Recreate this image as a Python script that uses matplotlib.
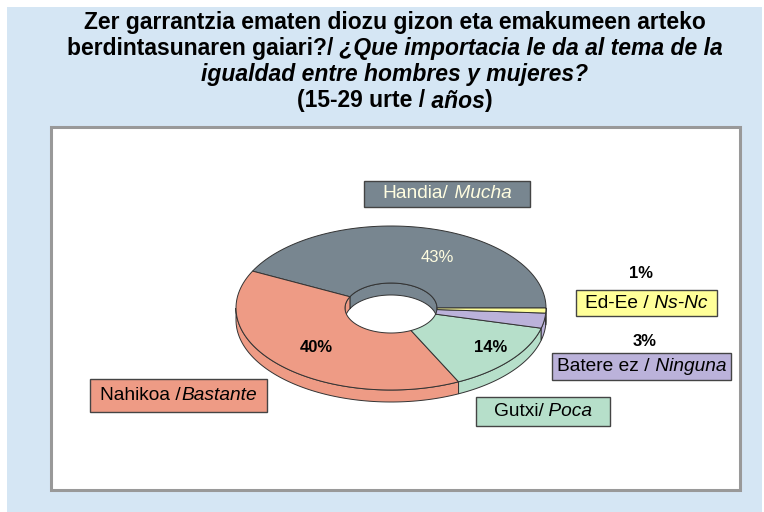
import numpy as np
import matplotlib.pyplot as plt
from matplotlib.patches import Rectangle, Polygon

# data
categories = ['Handia/ Mucha', 'Nahikoa /Bastante', 'Gutxi/ Poca', 'Batere ez / Ninguna', 'Ed-Ee / Ns-Nc']
values = [43, 40, 14, 3, 1]
pct_labels = ['43%', '40%', '14%', '3%', '1%']
colors = ['#788690', '#ee9b85', '#b6dfca', '#bbb2da', '#ffff99']

LFONT = ['Liberation Sans', 'DejaVu Sans']

fig = plt.figure(figsize=(7.64, 5.12), dpi=100)
ax = fig.add_axes([0, 0, 1, 1])
ax.set_xlim(0, 764)
ax.set_ylim(512, 0)
ax.axis('off')

# background + panel
ax.add_patch(Rectangle((7, 7), 755, 505, facecolor='#d5e6f4', edgecolor='none', zorder=0))
ax.add_patch(Rectangle((51, 127), 689, 363, facecolor='white', edgecolor='#999999', lw=2.2, zorder=1))

renderer = fig.canvas.get_renderer()


def rich(parts, xc, y, size, color='black', family=LFONT, z=10):
    objs = []
    for s, weight, style in parts:
        t = ax.text(0, y, s, fontsize=size, fontweight=weight, fontstyle=style,
                    color=color, va='center', ha='left', family=family, zorder=z)
        objs.append(t)
    widths = [t.get_window_extent(renderer).width for t in objs]
    x = xc - sum(widths) / 2
    for t, w in zip(objs, widths):
        t.set_x(x)
        x += w


# title
cx_t = 395
ts = 16.5
rich([('Zer garrantzia ematen diozu gizon eta emakumeen arteko', 'bold', 'normal')], cx_t, 23, ts)
rich([('berdintasunaren gaiari?/', 'bold', 'normal'),
      (' ¿Que importacia le da al tema de la', 'bold', 'italic')], cx_t, 48, ts)
rich([('igualdad entre hombres y mujeres?', 'bold', 'italic')], cx_t, 74, ts)
rich([('(15-29 urte /', 'bold', 'normal'), (' años', 'bold', 'italic'), (')', 'bold', 'normal')],
     cx_t, 101, ts)

# 3D donut
cx, cy = 391, 308
rxo, ryo = 155, 82
rxi, ryi = 46, 25
depth = 12
edge = '#333333'


def arc(a0, a1, rx, ry, dy=0, n=80):
    t = np.radians(np.linspace(a0, a1, n))
    return np.column_stack([cx + rx * np.cos(t), cy - ry * np.sin(t) + dy])


total = sum(values)
angles = np.concatenate([[0], np.cumsum(values) / total * 360])

# outer side walls (front half)
for i, c in enumerate(colors):
    a0, a1 = max(angles[i], 180), min(angles[i + 1], 360)
    if a1 > a0:
        top = arc(a0, a1, rxo, ryo)
        bot = arc(a1, a0, rxo, ryo, depth)
        ax.add_patch(Polygon(np.vstack([top, bot]), closed=True, facecolor=c,
                             edgecolor=edge, lw=0.7, zorder=3))

# inner walls (back half of hole)
for i, c in enumerate(colors):
    a0, a1 = max(angles[i], 0), min(angles[i + 1], 180)
    if a1 > a0:
        top = arc(a0, a1, rxi, ryi)
        bot = arc(a1, a0, rxi, ryi, depth)
        ax.add_patch(Polygon(np.vstack([top, bot]), closed=True, facecolor=c,
                             edgecolor=edge, lw=0.7, zorder=4))

# top surface
for i, c in enumerate(colors):
    outer = arc(angles[i], angles[i + 1], rxo, ryo)
    inner = arc(angles[i + 1], angles[i], rxi, ryi)
    ax.add_patch(Polygon(np.vstack([outer, inner]), closed=True, facecolor=c,
                         edgecolor=edge, lw=0.7, zorder=5))

# percentage labels
pct_pos = [(437, 258), (316, 347), (491, 347), (645, 341), (641, 274)]
for i, (lab, (x, y)) in enumerate(zip(pct_labels, pct_pos)):
    if i == 0:
        ax.text(x, y, lab, fontsize=12, color='#fffde0', ha='center', va='center', family=LFONT, zorder=10)
    else:
        ax.text(x, y, lab, fontsize=12, fontweight='bold', color='black', ha='center', va='center',
                family=LFONT, zorder=10)

# category boxes
boxes = [(364, 181, 166, 26), (90, 379, 177, 33), (476, 397, 134, 29), (552, 353, 179, 27), (576, 290, 141, 26)]
label_parts = [
    [('Handia/', 'normal', 'normal'), (' Mucha', 'normal', 'italic')],
    [('Nahikoa /', 'normal', 'normal'), ('Bastante', 'normal', 'italic')],
    [('Gutxi/', 'normal', 'normal'), (' Poca', 'normal', 'italic')],
    [('Batere ez /', 'normal', 'normal'), (' Ninguna', 'normal', 'italic')],
    [('Ed-Ee /', 'normal', 'normal'), (' Ns-Nc', 'normal', 'italic')],
]
for i, (bx, by, bw, bh) in enumerate(boxes):
    ax.add_patch(Rectangle((bx, by), bw, bh, facecolor=colors[i], edgecolor='#444444', lw=1, zorder=8))
    col = '#fffde0' if i == 0 else 'black'
    rich(label_parts[i], bx + bw / 2, by + bh / 2, 13.8, color=col)

fig.savefig('out.png', dpi=100)
